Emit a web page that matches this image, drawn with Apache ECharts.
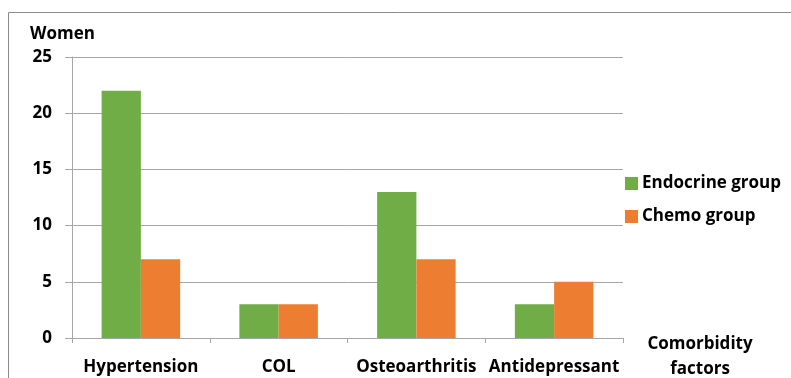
<!DOCTYPE html>
<html>
<head>
<meta charset="utf-8">
<script src="https://cdn.jsdelivr.net/npm/echarts@6/dist/echarts.min.js"></script>
<style>
  html, body { margin: 0; padding: 0; background: #fff; }
  #chart { width: 791px; height: 378px; }
</style>
</head>
<body>
<div id="chart"></div>
<script>
// Comorbidity factors among women, by treatment group
const categories = ['Hypertension', 'COL', 'Osteoarthritis', 'Antidepressant'];
const endocrineGroup = [22, 3, 13, 3];
const chemoGroup = [7, 3, 7, 5];
const seriesNames = ['Endocrine group', 'Chemo group'];

const FONT = '"Open Sans", "Noto Sans", sans-serif';
const FS = 17;
const axisGrey = '#a6a6a6';

const chart = echarts.init(document.getElementById('chart'));
chart.setOption({
  animation: false,
  textStyle: { fontFamily: FONT },
  grid: { left: 72, top: 57, width: 551, height: 281 },
  legend: {
    orient: 'vertical',
    left: 620,
    top: 170,
    itemWidth: 13,
    itemHeight: 13,
    itemGap: 16,
    icon: 'rect',
    textStyle: { fontFamily: FONT, fontSize: FS, fontWeight: 'bold', color: '#000', padding: [0, 0, 0, -1] },
    data: seriesNames
  },
  xAxis: {
    type: 'category',
    data: categories,
    axisLine: { lineStyle: { color: axisGrey } },
    axisTick: { show: true, length: 5, lineStyle: { color: axisGrey } },
    axisLabel: { interval: 0, fontFamily: FONT, fontSize: FS, fontWeight: 'bold', color: '#000', margin: 21 }
  },
  yAxis: {
    type: 'value',
    min: 0,
    max: 25,
    interval: 5,
    name: 'Women',
    nameLocation: 'end',
    nameGap: 14,
    nameTextStyle: { fontFamily: FONT, fontSize: FS, fontWeight: 'bold', color: '#000', align: 'left', padding: [0, 0, 0, -42] },
    axisLine: { show: true, lineStyle: { color: axisGrey } },
    axisTick: { show: true, length: 7, lineStyle: { color: axisGrey } },
    axisLabel: { fontFamily: FONT, fontSize: FS, fontWeight: 'bold', color: '#000', margin: 20 },
    splitLine: { lineStyle: { color: axisGrey } }
  },
  series: [
    {
      name: seriesNames[0],
      type: 'bar',
      data: endocrineGroup,
      itemStyle: { color: '#70ad47' },
      barGap: '0%',
      barCategoryGap: '43%'
    },
    {
      name: seriesNames[1],
      type: 'bar',
      data: chemoGroup,
      itemStyle: { color: '#ed7d31' }
    }
  ],
  graphic: [
    // outer frame (left and top edges)
    { type: 'line', shape: { x1: 8.5, y1: 12.5, x2: 8.5, y2: 378 }, style: { stroke: '#8c8c8c', lineWidth: 1 } },
    { type: 'line', shape: { x1: 8.5, y1: 12.5, x2: 791, y2: 12.5 }, style: { stroke: '#8c8c8c', lineWidth: 1 } },
    {
      type: 'text',
      x: 700,
      y: 332,
      style: {
        text: 'Comorbidity\nfactors',
        font: 'bold ' + FS + 'px ' + FONT,
        fill: '#000',
        align: 'center',
        lineHeight: 25
      }
    }
  ]
});
</script>
</body>
</html>
